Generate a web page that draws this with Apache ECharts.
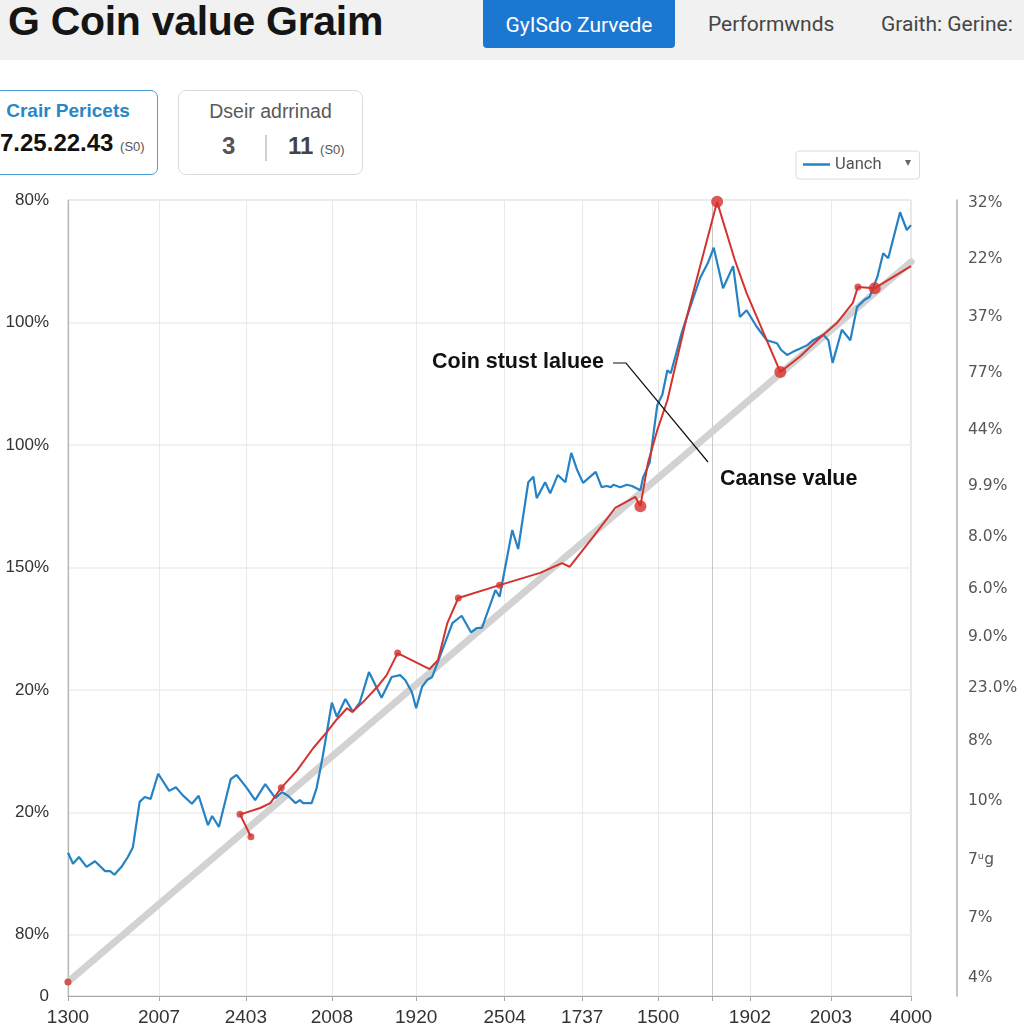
<!DOCTYPE html>
<html>
<head>
<meta charset="utf-8">
<script src="https://cdn.jsdelivr.net/npm/echarts@6/dist/echarts.min.js"></script>
<style>
  html, body { margin: 0; padding: 0; background: #ffffff; }
  #wrap { position: relative; width: 1024px; height: 1024px; overflow: hidden; font-family: "Liberation Sans", Arial, sans-serif; }
  #chart { position: absolute; left: 0; top: 0; width: 1024px; height: 1024px; }
  .hdr { position: absolute; left: 0; top: 0; width: 1024px; height: 60px; background: #f1f1f1; z-index: 2; }
  .title { position: absolute; left: 8px; top: -2px; font-size: 41px; font-weight: bold; color: #151515; letter-spacing: -0.3px; white-space: nowrap; }
  .btn { position: absolute; left: 483px; top: 0px; width: 192px; height: 48px; background: #1b77cf; border-radius: 0 0 4px 4px; color: #fff; font-family: Roboto, sans-serif; font-size: 21px; line-height: 50px; text-align: center; white-space: nowrap; }
  .nav { position: absolute; top: 12px; font-family: Roboto, sans-serif; font-size: 21px; color: #454545; white-space: nowrap; }
  .card { position: absolute; top: 90px; height: 85px; box-sizing: border-box; background: #fff; z-index: 2; }
  .c1 { left: -6px; width: 164px; border: 1.5px solid #4a9fd6; border-radius: 7px; }
  .c2 { left: 178px; width: 185px; border: 1.5px solid #dadada; border-radius: 8px; }
  .ct { position: absolute; top: 9px; left: 0; width: 100%; text-align: center; white-space: nowrap; }
  .sm { font-size: 13px; font-weight: normal; color: #555; }
</style>
</head>
<body>
<div id="wrap">
  <div id="chart"></div>
  <div class="hdr">
    <div class="title">G Coin value Graim</div>
    <div class="btn">GyISdo Zurvede</div>
    <div class="nav" style="left:708px;">Performwnds</div>
    <div class="nav" style="left:881px;">Graith: Gerine:</div>
  </div>
  <div class="card c1">
    <div class="ct" style="color:#2a86c5;font-weight:bold;font-size:19px;left:-8px;">Crair Pericets</div>
    <div style="position:absolute;left:5px;top:38px;font-size:24px;font-weight:bold;color:#111;white-space:nowrap;">7.25.22.43 <span class="sm">(S0)</span></div>
  </div>
  <div class="card c2">
    <div class="ct" style="color:#5a5a5a;font-size:19.5px;">Dseir adrrinad</div>
    <div style="position:absolute;left:43px;top:41px;font-size:24px;font-weight:bold;color:#555;">3</div>
    <div style="position:absolute;left:86px;top:44px;width:1.5px;height:26px;background:#d0d0d0;"></div>
    <div style="position:absolute;left:109px;top:41px;font-size:24px;font-weight:bold;color:#444;white-space:nowrap;">11 <span class="sm">(S0)</span></div>
  </div>
</div>
<script>
// ---- tick labels ----
const xTickValues = [0, 1.08, 2.11, 3.13, 4.13, 5.18, 6.10, 7.00, 7.64, 8.09, 9.05, 10];
const xTickLabels = ['1300', '2007', '2403', '2008', '1920', '2504', '1737', '1500', '', '1902', '2003', '4000'];
const yTickValues = [0, 1, 3, 5, 7, 9, 11, 13];
const yTickLabels = ['0', '80%', '20%', '20%', '150%', '100%', '100%', '80%'];
const rightTickValues = [12.95, 12.04, 11.09, 10.17, 9.24, 8.33, 7.50, 6.65, 5.86, 5.03, 4.16, 3.18, 2.22, 1.27, 0.29];
const rightTickLabels = ['32%', '22%', '37%', '77%', '44%', '9.9%', '8.0%', '6.0%', '9.0%', '23.0%', '8%', '10%', '7\u1d58g', '7%', '4%'];

// ---- series values [x, y] ----
const trendLine = [[0, 0.23], [10, 11.99]];

const blueLine = [
  [0.00, 2.34], [0.06, 2.16], [0.13, 2.27], [0.22, 2.11], [0.32, 2.20], [0.44, 2.04], [0.50, 2.04], [0.55, 1.98],
  [0.64, 2.12], [0.71, 2.27], [0.77, 2.43], [0.85, 3.17], [0.91, 3.25], [0.98, 3.22], [1.07, 3.63], [1.20, 3.35],
  [1.28, 3.41], [1.36, 3.28], [1.47, 3.14], [1.55, 3.27], [1.66, 2.79], [1.71, 2.94], [1.79, 2.76], [1.93, 3.54],
  [2.00, 3.61], [2.12, 3.40], [2.22, 3.20], [2.34, 3.46], [2.46, 3.23], [2.54, 3.33], [2.61, 3.27], [2.70, 3.15],
  [2.75, 3.20], [2.79, 3.15], [2.89, 3.15], [2.95, 3.40], [3.02, 3.90], [3.13, 4.79], [3.19, 4.56], [3.29, 4.85],
  [3.38, 4.64], [3.46, 4.79], [3.57, 5.29], [3.72, 4.87], [3.84, 5.21], [3.94, 5.24], [4.00, 5.16], [4.08, 4.96],
  [4.13, 4.70], [4.20, 5.05], [4.26, 5.16], [4.32, 5.21], [4.44, 5.65], [4.56, 6.09], [4.67, 6.21], [4.78, 5.94],
  [4.85, 6.01], [4.91, 6.01], [5.07, 6.63], [5.12, 6.52], [5.27, 7.61], [5.34, 7.30], [5.46, 8.39], [5.52, 8.48],
  [5.56, 8.13], [5.66, 8.39], [5.72, 8.21], [5.81, 8.51], [5.90, 8.39], [5.97, 8.87], [6.04, 8.59], [6.11, 8.38],
  [6.26, 8.56], [6.33, 8.31], [6.39, 8.33], [6.44, 8.31], [6.47, 8.35], [6.55, 8.31], [6.63, 8.35], [6.69, 8.33],
  [6.79, 8.26], [6.82, 8.46], [6.90, 8.71], [6.99, 9.65], [7.05, 9.82], [7.11, 10.22], [7.15, 10.17], [7.21, 10.47],
  [7.28, 10.83], [7.38, 11.25], [7.50, 11.73], [7.59, 11.97], [7.66, 12.22], [7.77, 11.56], [7.89, 11.92], [7.97, 11.09],
  [8.05, 11.20], [8.17, 10.93], [8.29, 10.71], [8.41, 10.66], [8.46, 10.55], [8.53, 10.47], [8.60, 10.52], [8.68, 10.57],
  [8.77, 10.63], [8.84, 10.71], [8.96, 10.80], [9.02, 10.71], [9.07, 10.34], [9.18, 10.88], [9.28, 10.71], [9.36, 11.25],
  [9.45, 11.37], [9.51, 11.42], [9.60, 11.74], [9.67, 12.13], [9.73, 12.05], [9.87, 12.80], [9.95, 12.51], [10.00, 12.59]
];

const redLine = [
  [2.17, 2.60], [2.04, 2.97], [2.10, 2.99], [2.28, 3.07], [2.40, 3.15], [2.53, 3.40], [2.72, 3.69], [2.91, 4.05],
  [3.07, 4.31], [3.19, 4.52], [3.31, 4.70], [3.37, 4.64], [3.50, 4.80], [3.67, 5.05], [3.78, 5.24], [3.91, 5.60],
  [4.29, 5.34], [4.39, 5.49], [4.50, 6.09], [4.63, 6.50], [5.12, 6.71], [5.60, 6.91], [5.86, 7.07], [5.95, 7.01],
  [6.23, 7.50], [6.49, 7.97], [6.73, 8.15], [6.79, 8.00], [6.88, 8.71], [6.99, 9.24], [7.11, 9.73], [7.34, 11.09],
  [7.70, 12.97], [7.91, 12.02], [8.05, 11.48], [8.45, 10.19], [8.68, 10.44], [8.92, 10.75], [9.12, 10.99], [9.31, 11.32],
  [9.37, 11.58], [9.57, 11.56], [10.00, 11.92]
];
const redMajorDots = [[6.79, 8.00], [7.70, 12.97], [8.45, 10.19], [9.57, 11.56]];
const redMinorDots = [[0, 0.23], [2.04, 2.97], [2.17, 2.60], [2.53, 3.40], [3.91, 5.60], [4.63, 6.50], [5.12, 6.71], [9.37, 11.58]];

function lookup(vals, labels, v) {
  for (let i = 0; i < vals.length; i++) if (Math.abs(vals[i] - v) < 1e-6) return labels[i];
  return '';
}

const chart = echarts.init(document.getElementById('chart'), null, { renderer: 'canvas' });
const splitColors = xTickValues.map(v => Math.abs(v - 7.64) < 1e-6 ? '#c9c9c9' : '#e9e9e9');

chart.setOption({
  animation: false,
  backgroundColor: 'transparent',
  textStyle: { fontFamily: 'Liberation Sans, Arial, sans-serif' },
  legend: {
    data: ['Uanch'],
    left: 796, top: 151,
    backgroundColor: '#fff', borderColor: '#dcdcdc', borderWidth: 1, borderRadius: 3,
    padding: [5, 38, 6, 7],
    icon: 'rect', itemWidth: 27, itemHeight: 2.5, itemGap: 6,
    textStyle: { fontSize: 16.5, color: '#555', fontFamily: 'Roboto, sans-serif' }
  },
  grid: { left: 68, right: 113, top: 200, bottom: 28, show: true, borderColor: '#cfcfcf', borderWidth: 1, containLabel: false, outerBoundsMode: 'none' },
  xAxis: {
    type: 'value', min: 0, max: 10,
    axisLine: { show: true, lineStyle: { color: '#a8a8a8', width: 1.2 } },
    axisTick: { show: true, length: 5, lineStyle: { color: '#a8a8a8' }, customValues: xTickValues },
    axisLabel: {
      customValues: xTickValues.filter((v, i) => xTickLabels[i] !== ''),
      formatter: v => lookup(xTickValues, xTickLabels, v),
      fontSize: 19, color: '#333', margin: 12
    },
    splitLine: { show: true, lineStyle: { color: splitColors, width: 1 } }
  },
  yAxis: [
    {
      type: 'value', min: 0, max: 13, position: 'left',
      axisLine: { show: true, lineStyle: { color: '#b5b5b5', width: 1.2 } },
      axisTick: { show: false, customValues: yTickValues },
      axisLabel: {
        customValues: yTickValues,
        formatter: v => lookup(yTickValues, yTickLabels, v),
        fontSize: 17, color: '#333', margin: 19
      },
      splitLine: { show: true, lineStyle: { color: '#ececec', width: 1.5 } }
    },
    {
      type: 'value', min: 0, max: 13, position: 'right', offset: 46,
      axisLine: { show: true, lineStyle: { color: '#b0b0b0', width: 1.5 } },
      axisTick: { show: false, customValues: rightTickValues },
      axisLabel: {
        customValues: rightTickValues,
        formatter: v => lookup(rightTickValues, rightTickLabels, v),
        fontSize: 15.5, color: '#555', margin: 11, fontFamily: 'DejaVu Sans, sans-serif'
      },
      splitLine: { show: false }
    }
  ],
  series: [
    {
      name: 'Trend', type: 'line', data: trendLine, symbol: 'none', silent: true, z: 1,
      lineStyle: { color: '#d2d2d2', width: 7, cap: 'round' }
    },
    {
      name: 'Uanch', type: 'line', data: blueLine, showSymbol: false, z: 3, color: '#2582c4',
      lineStyle: { color: '#2582c4', width: 2.2 }
    },
    {
      name: 'Red', type: 'line', data: redLine, showSymbol: false, z: 4, color: '#d3332f',
      lineStyle: { color: '#d3332f', width: 2 }
    },
    {
      name: 'RedMajor', type: 'scatter', data: redMajorDots, symbolSize: 12, z: 5, clip: false,
      itemStyle: { color: '#d8302c' }
    },
    {
      name: 'RedMinor', type: 'scatter', data: redMinorDots, symbolSize: 7, z: 5, clip: false,
      itemStyle: { color: '#d3332f' }
    }
  ],
  graphic: [
    { type: 'text', left: 905, top: 157, z: 10, style: { text: '\u25be', fontSize: 12, fill: '#666' } },
    { type: 'text', left: 432, top: 351, z: 10, style: { text: 'Coin stust laluee', fontSize: 21.5, fontWeight: 'bold', fill: '#111', fontFamily: 'Liberation Sans, Arial' } },
    { type: 'polyline', z: 10, shape: { points: [[613, 363], [626, 363], [708, 462]] }, style: { stroke: '#111', lineWidth: 1.2, fill: null } },
    { type: 'text', left: 720, top: 468, z: 10, style: { text: 'Caanse value', fontSize: 21.5, fontWeight: 'bold', fill: '#111', fontFamily: 'Liberation Sans, Arial' } }
  ]
});
</script>
</body>
</html>
